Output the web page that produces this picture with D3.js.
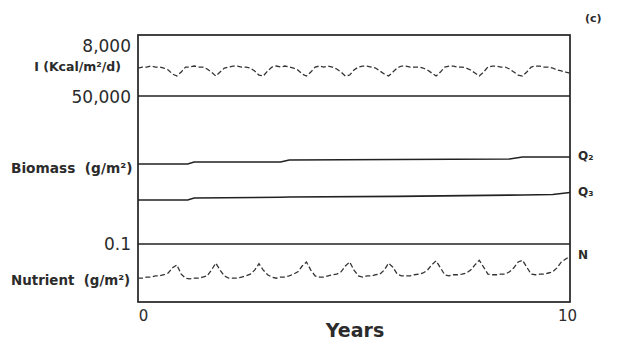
<!DOCTYPE html>
<html>
<head>
<meta charset="utf-8">
<script src="https://cdn.jsdelivr.net/npm/d3@7"></script>
<style>
body{margin:0;background:#fff;}
text{font-family:"DejaVu Sans",sans-serif;fill:#2b2b2b;}
</style>
</head>
<body>
<svg width="621" height="345"></svg>
<script>
// samples every 0.1 year
var krok = 0.1;

// I (Kcal/m2/d)
var swiatlo = [
 3670,3800,3800,3930,3800,3800,3670,3410,2880,2620,
 3140,3800,3800,3930,3800,3800,3540,3140,2620,3140,
 3670,3800,3930,3930,3800,3800,3670,3280,2750,2620,
 3280,3800,3930,3800,3930,3800,3670,3410,2880,2620,
 3140,3800,3930,3800,3930,3800,3540,3140,2620,2750,
 3410,3800,3930,3930,3800,3670,3280,2880,2620,3140,
 3670,3930,3930,3800,3800,3800,3670,3410,3010,2620,
 3140,3800,3930,3930,3800,3800,3670,3410,3010,2620,
 3140,3800,3930,3930,3800,3800,3540,3140,2750,2620,
 3140,3800,3930,3930,3800,3800,3670,3410,3280,3140,
 3010];

// Nutrient (g/m2)
var nutrient = [
 0.041,0.041,0.043,0.043,0.045,0.045,0.047,0.050,0.059,0.064,
 0.048,0.041,0.040,0.041,0.041,0.043,0.045,0.055,0.067,0.055,
 0.045,0.041,0.041,0.041,0.043,0.045,0.048,0.055,0.066,0.055,
 0.047,0.043,0.041,0.043,0.043,0.045,0.048,0.052,0.062,0.069,
 0.055,0.045,0.043,0.043,0.045,0.047,0.048,0.052,0.062,0.069,
 0.055,0.045,0.043,0.045,0.045,0.047,0.048,0.055,0.067,0.060,
 0.048,0.045,0.045,0.045,0.047,0.048,0.050,0.055,0.064,0.071,
 0.059,0.047,0.045,0.047,0.047,0.048,0.050,0.055,0.064,0.072,
 0.060,0.048,0.047,0.047,0.048,0.048,0.052,0.059,0.069,0.072,
 0.060,0.048,0.047,0.048,0.048,0.050,0.052,0.059,0.069,0.074,
 0.079];

// Biomass (g/m2)
var lataQ = [0, 1.15, 1.3, 3.3, 3.5, 6, 8.6, 8.9, 9.6, 10];
var q2 = [27030, 27030, 27700, 27700, 28380, 28550, 28720, 29390, 29390, 29390];
var q3 = [14860, 14860, 15540, 15800, 15880, 16100, 16500, 16550, 16700, 17400];

var lataTicks = [0, 10];
var maxI = 8000, maxB = 50000, maxN = 0.1;

var svg = d3.select("svg");

var x = d3.scaleLinear().domain([0, 10]).range([138, 570]);
var yI = d3.scaleLinear().domain([0, maxI]).range([96, 35]);
var yB = d3.scaleLinear().domain([0, maxB]).range([244, 96]);
var yN = d3.scaleLinear().domain([0, maxN]).range([302, 244]);

// ramka
svg.append("rect")
	.attr("x", x(0))
	.attr("y", yI(maxI))
	.attr("width", x(10) - x(0))
	.attr("height", yN(0) - yI(maxI))
	.style("fill", "none")
	.style("stroke", "#222")
	.style("stroke-width", 1.7);

function linia(yy){
	svg.append("line")
		.attr("x1", x(0))
		.attr("x2", x(10))
		.attr("y1", yy)
		.attr("y2", yy)
		.style("stroke", "#222")
		.style("stroke-width", 1.7);
}
linia(yI(0));
linia(yN(maxN));

// lewe osie - tylko wartosc na gorze panelu
function osLewa(skala, wart, fmt, przes){
	var g = svg.append("g")
		.attr("transform", "translate(" + x(0) + ",0)")
		.call(d3.axisLeft(skala).tickValues([wart]).tickSize(0).tickPadding(7).tickFormat(fmt));
	g.select(".domain").remove();
	g.selectAll("text")
		.style("font-family", "DejaVu Sans")
		.attr("font-size", 17)
		.attr("fill", "#2b2b2b")
		.attr("dy", przes);
}
osLewa(yI, maxI, d3.format(","), "0.98em");
osLewa(yB, maxB, d3.format(","), "0.36em");
osLewa(yN, maxN, d3.format(".1f"), "0.3em");

var gx = svg.append("g")
	.attr("transform", "translate(0," + yN(0) + ")")
	.call(d3.axisBottom(x).tickValues(lataTicks).tickSize(0).tickPadding(8).tickFormat(d3.format("d")));
gx.select(".domain").remove();
gx.selectAll("text")
	.style("font-family", "DejaVu Sans")
	.attr("font-size", 15)
	.attr("fill", "#2b2b2b")
	.attr("dx", function(d){ return d == 0 ? 5 : -3; });

svg.append("text")
	.attr("x", 355)
	.attr("y", 337)
	.attr("text-anchor", "middle")
	.attr("font-size", 19)
	.attr("font-weight", "bold")
	.text("Years");

// etykiety paneli
function tex(t, xx, yy, anchor, size){
	svg.append("text")
		.attr("x", xx)
		.attr("y", yy)
		.attr("text-anchor", anchor)
		.attr("font-size", size)
		.attr("font-weight", "bold")
		.text(t);
}
tex("I (Kcal/m²/d)", 121, 71, "end", 12.5);
tex("Biomass\u00a0\u00a0(g/m²)", 11, 173, "start", 13.7);
tex("Nutrient\u00a0\u00a0(g/m²)", 11, 285, "start", 13.4);
tex("Q₂", 578, 160, "start", 12);
tex("Q₃", 578, 196, "start", 12);
tex("N", 578, 259, "start", 12);
tex("(c)", 585, 22, "start", 11);

// serie
var liniaI = d3.line().x(function(d, i){ return x(i * krok); }).y(function(d){ return yI(d); });
var liniaN = d3.line().x(function(d, i){ return x(i * krok); }).y(function(d){ return yN(d); });
var liniaQ = d3.line().x(function(d, i){ return x(lataQ[i]); }).y(function(d){ return yB(d); });

svg.append("path")
	.attr("d", liniaI(swiatlo))
	.style("fill", "none")
	.style("stroke", "#333")
	.style("stroke-width", 1.3)
	.style("stroke-dasharray", "5,2.5");

svg.append("path")
	.attr("d", liniaN(nutrient))
	.style("fill", "none")
	.style("stroke", "#333")
	.style("stroke-width", 1.3)
	.style("stroke-dasharray", "5,2.5");

[q2, q3].forEach(function(s){
	svg.append("path")
		.attr("d", liniaQ(s))
		.style("fill", "none")
		.style("stroke", "#222")
		.style("stroke-width", 1.6);
});
</script>
</body>
</html>
